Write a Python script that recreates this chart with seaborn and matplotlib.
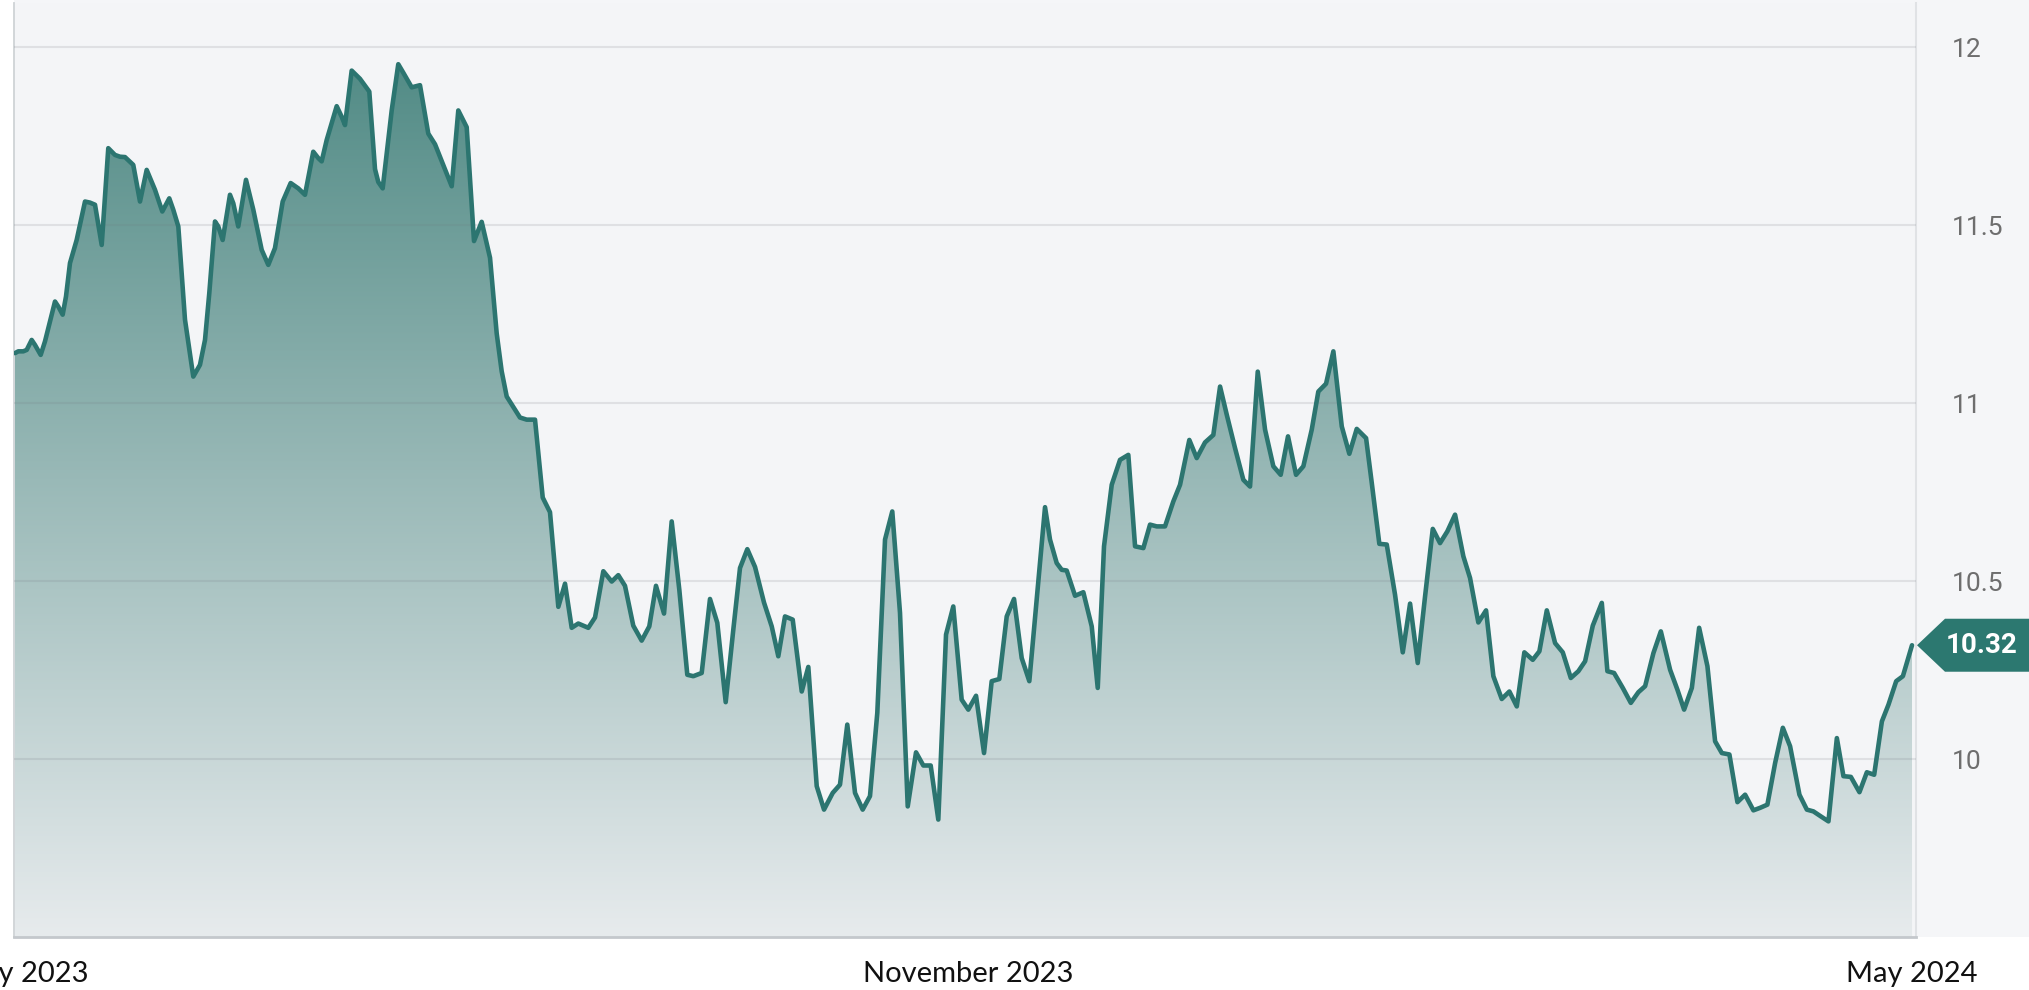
import numpy as np
import pandas as pd
import matplotlib
matplotlib.use("Agg")
import matplotlib.pyplot as plt
from matplotlib.patches import Polygon, Rectangle
from matplotlib.transforms import IdentityTransform, ScaledTranslation
from matplotlib.colors import to_rgb
import seaborn as sns

# ---------------- data ----------------
start_date = "2023-05-01"
days = [
    0.0, 0.64, 1.60, 2.26, 3.22, 3.86, 4.96, 5.79, 7.72, 8.35,
    9.20, 9.84, 10.61, 11.90, 13.51, 14.47, 15.44, 16.73, 18.00, 19.29,
    20.26, 21.22, 22.82, 24.12, 25.41, 27.01, 28.42, 29.77, 30.54, 31.51,
    32.80, 34.40, 35.69, 36.66, 37.49, 38.59, 39.22, 40.07, 41.48, 42.12,
    43.08, 44.57, 45.98, 47.60, 48.87, 50.16, 51.65, 53.19, 54.66, 55.95,
    57.55, 58.52, 59.17,
    60.14, 62.07, 63.04, 63.67, 64.96, 66.56, 68.36, 69.46, 70.09, 70.94,
    72.68, 73.95, 74.92, 76.54, 78.14, 79.74, 81.04, 82.64, 84.26, 85.53,
    87.15, 88.56, 90.04, 91.65, 92.94, 93.90, 94.87, 97.43, 98.73, 100.33,
    101.82, 103.22, 104.83, 106.12, 107.41, 108.68, 109.65, 110.61, 111.91, 113.51,
    115.13, 116.40, 117.69, 119.29, 120.91,
    122.38, 123.67, 125.22, 126.70, 128.17, 129.71, 130.87, 132.49, 134.09, 135.50,
    137.12, 138.59, 139.88, 141.29, 142.78, 144.51, 146.00, 147.27, 148.56, 150.05,
    151.79, 153.06, 154.68, 156.09, 157.77, 159.17, 160.58, 162.07, 163.55, 164.96,
    166.37, 167.86, 169.26, 170.75, 172.24, 173.84, 175.25, 176.67, 178.14, 179.63,
    181.03, 182.65,
    183.93, 185.42, 186.96, 188.44, 189.91, 191.34, 192.75, 194.23, 195.70, 197.24,
    198.73, 199.69, 200.98, 201.95, 202.91, 204.52, 206.12, 207.74, 208.90, 210.11,
    211.60, 213.20, 214.80, 216.10, 217.70, 218.99, 220.28, 221.88, 223.48, 224.78,
    226.57, 228.00, 229.60, 231.20, 232.50, 233.79, 235.39, 236.99, 238.28, 239.77,
    241.18, 242.78, 244.20,
    245.61, 247.16, 248.57, 250.19, 251.46, 252.95, 254.36, 255.98, 257.44, 258.87,
    260.67, 261.77, 263.23, 264.66, 266.26, 267.75, 269.16, 270.64, 272.05, 273.54,
    274.94, 276.35, 277.84, 279.44, 280.73, 282.33, 283.82, 285.23, 286.85, 288.32,
    289.75, 291.21, 292.83, 294.11, 295.54, 297.14, 298.62, 300.17, 301.63, 302.93,
    304.41, 306.15,
    307.23, 308.52, 310.20, 311.75, 313.21, 314.51, 316.11, 317.54, 319.33, 320.74,
    322.03, 323.52, 324.93, 326.53, 328.01, 329.31, 330.77, 332.32, 333.80, 335.40,
    336.69, 338.10, 339.59, 341.08, 342.48, 344.28, 345.71, 346.98, 348.41, 349.88,
    351.50, 352.77, 354.20, 355.86, 357.29, 358.70, 360.19, 361.46, 362.95, 364.24,
    366.0,
]
values = [
    11.141, 11.146, 11.146, 11.150, 11.178, 11.164, 11.136, 11.174, 11.286, 11.272,
    11.249, 11.300, 11.394, 11.459, 11.567, 11.564, 11.558, 11.445, 11.717, 11.698,
    11.693, 11.692, 11.670, 11.567, 11.656, 11.600, 11.539, 11.576, 11.544, 11.497,
    11.235, 11.075, 11.108, 11.178, 11.310, 11.511, 11.497, 11.459, 11.586, 11.562,
    11.497, 11.628, 11.544, 11.431, 11.389, 11.436, 11.567, 11.619, 11.604, 11.586,
    11.707, 11.689, 11.680,
    11.740, 11.835, 11.805, 11.782, 11.935, 11.912, 11.876, 11.658, 11.622, 11.604,
    11.823, 11.953, 11.929, 11.888, 11.894, 11.758, 11.728, 11.669, 11.610, 11.823,
    11.776, 11.456, 11.510, 11.409, 11.196, 11.090, 11.019, 10.960, 10.954, 10.954,
    10.735, 10.694, 10.428, 10.493, 10.369, 10.381, 10.375, 10.369, 10.398, 10.528,
    10.499, 10.517, 10.487, 10.375, 10.333,
    10.373, 10.487, 10.409, 10.668, 10.476, 10.237, 10.233, 10.242, 10.450, 10.383,
    10.160, 10.364, 10.537, 10.590, 10.540, 10.440, 10.373, 10.289, 10.401, 10.392,
    10.190, 10.259, 9.924, 9.858, 9.905, 9.928, 10.097, 9.905, 9.858, 9.896,
    10.130, 10.617, 10.696, 10.411, 9.867, 10.019, 9.982, 9.982, 9.830, 10.350,
    10.429, 10.167,
    10.139, 10.178, 10.017, 10.219, 10.225, 10.401, 10.450, 10.284, 10.219, 10.467,
    10.708, 10.617, 10.551, 10.532, 10.530, 10.459, 10.469, 10.373, 10.200, 10.598,
    10.771, 10.841, 10.855, 10.598, 10.593, 10.659, 10.654, 10.654, 10.724, 10.771,
    10.897, 10.846, 10.890, 10.911, 11.047, 10.968, 10.874, 10.785, 10.766, 11.089,
    10.926, 10.823, 10.799,
    10.907, 10.799, 10.823, 10.926, 11.033, 11.055, 11.146, 10.935, 10.858, 10.928,
    10.902, 10.776, 10.605, 10.603, 10.462, 10.300, 10.437, 10.270, 10.457, 10.647,
    10.607, 10.640, 10.687, 10.570, 10.509, 10.384, 10.418, 10.233, 10.169, 10.190,
    10.148, 10.300, 10.279, 10.303, 10.418, 10.326, 10.300, 10.228, 10.247, 10.275,
    10.375, 10.439,
    10.247, 10.242, 10.200, 10.158, 10.188, 10.205, 10.298, 10.359, 10.251, 10.195,
    10.139, 10.200, 10.369, 10.261, 10.050, 10.017, 10.013, 9.879, 9.900, 9.856,
    9.863, 9.872, 9.989, 10.088, 10.036, 9.900, 9.858, 9.853, 9.839, 9.825,
    10.059, 9.952, 9.950, 9.907, 9.963, 9.956, 10.106, 10.153, 10.219, 10.233,
    10.32,
]
y_ticks = [10, 10.5, 11, 11.5, 12]
y_tick_labels = ["10", "10.5", "11", "11.5", "12"]
x_tick_dates = ["2023-05-01", "2023-11-01", "2024-05-01"]
x_tick_labels = ["May 2023", "November 2023", "May 2024"]

# ---------------- style ----------------
LINE_COLOR = "#2c7570"
TAG_COLOR = "#2c7870"
FILL_TOP = "#48857f"
FILL_BOTTOM = "#e7ebed"
PLOT_BG = "#f4f5f7"

sns.set_theme(style="white")
plt.rcParams["font.family"] = ["Roboto", "DejaVu Sans"]

W, H, DPI = 2029, 990, 100
fig = plt.figure(figsize=(W / DPI, H / DPI), dpi=DPI, facecolor="white")
bg = Rectangle((14 / W, 53 / H), 1 - 14 / W, 1 - 53 / H,
               transform=fig.transFigure, facecolor="#f5f6f8",
               edgecolor="none", zorder=-5)
fig.patches.append(bg)
ax = fig.add_axes([14 / W, 53 / H, 1902 / W, 934 / H], zorder=2)
ax.set_facecolor(PLOT_BG)

df = pd.DataFrame({
    "date": pd.Timestamp(start_date) + pd.to_timedelta(days, unit="D"),
    "value": values,
})

y_lo, y_hi = 9.5, 12.125
x_lo = pd.Timestamp(start_date) - pd.Timedelta(days=0.19)
x_hi = pd.Timestamp(start_date) + pd.Timedelta(days=366.77)

sns.lineplot(data=df, x="date", y="value", ax=ax, color=LINE_COLOR,
             linewidth=3.3, zorder=4, solid_joinstyle="round", solid_capstyle="round")

# gradient area fill, clipped to the area below the line
fill = ax.fill_between(df["date"], df["value"], y_lo, facecolor="none",
                       edgecolor="none")
ax.set_xlim(x_lo, x_hi)
ax.set_ylim(y_lo, y_hi)
xl = ax.get_xlim()
top, bot = np.array(to_rgb(FILL_TOP)), np.array(to_rgb(FILL_BOTTOM))
t = np.linspace(0, 1, 512)[:, None]
grad = (top[None, :] * (1 - t) + bot[None, :] * t)[:, None, :]
im = ax.imshow(grad, extent=[xl[0], xl[1], y_lo, y_hi], aspect="auto",
               origin="upper", zorder=1, interpolation="bilinear")
im.set_clip_path(fill.get_paths()[0], transform=ax.transData)
ax.set_xlim(x_lo, x_hi)
ax.set_ylim(y_lo, y_hi)

# grid
ax.set_axisbelow(False)
ax.set_yticks(y_ticks)
ax.set_yticklabels(y_tick_labels)
ax.grid(axis="y", color=(0.45, 0.47, 0.5), alpha=0.16, linewidth=1.5)
ax.grid(axis="x", visible=False)

ax.yaxis.tick_right()
ax.tick_params(axis="y", length=0, pad=26, labelsize=19, labelcolor="#6e6e6e")

ax.set_xticks(pd.to_datetime(x_tick_dates))
ax.set_xticklabels(x_tick_labels)
ax.tick_params(axis="x", length=0, pad=17)
for lab in ax.get_xticklabels():
    lab.set_fontfamily(["Lato", "DejaVu Sans"])
    lab.set_fontsize(21)
    lab.set_color("#111111")
# the first label sits slightly right of its date in the reference
first = ax.get_xticklabels()[0]
first.set_transform(first.get_transform() + ScaledTranslation(8 / DPI, 0, fig.dpi_scale_trans))

ax.set_xlabel("")
ax.set_ylabel("")
ax.spines["top"].set_visible(False)
ax.spines["left"].set_color("#cfd3d6")
ax.spines["left"].set_linewidth(1.3)
ax.spines["right"].set_color("#e0e2e5")
ax.spines["right"].set_linewidth(1.5)
ax.spines["bottom"].set_color("#c4c8cc")
ax.spines["bottom"].set_linewidth(2.0)

# last-value tag
last_val = values[-1]
x_tip = ax.transAxes.transform((1, 0))[0]
y_tag = ax.transData.transform((0, last_val))[1]
hh = 26.5
tag = Polygon([(x_tip + 1, y_tag), (x_tip + 29, y_tag + hh), (W + 5, y_tag + hh),
               (W + 5, y_tag - hh), (x_tip + 29, y_tag - hh)], closed=True,
              transform=IdentityTransform(), facecolor=TAG_COLOR, edgecolor="none",
              zorder=10)
fig.add_artist(tag)
fig.text(x_tip + 66, y_tag, f"{last_val:.2f}", transform=IdentityTransform(),
         ha="center", va="center", color="white", fontsize=20, fontweight="bold",
         zorder=11)

fig.savefig("out.png", dpi=DPI, facecolor="white")
